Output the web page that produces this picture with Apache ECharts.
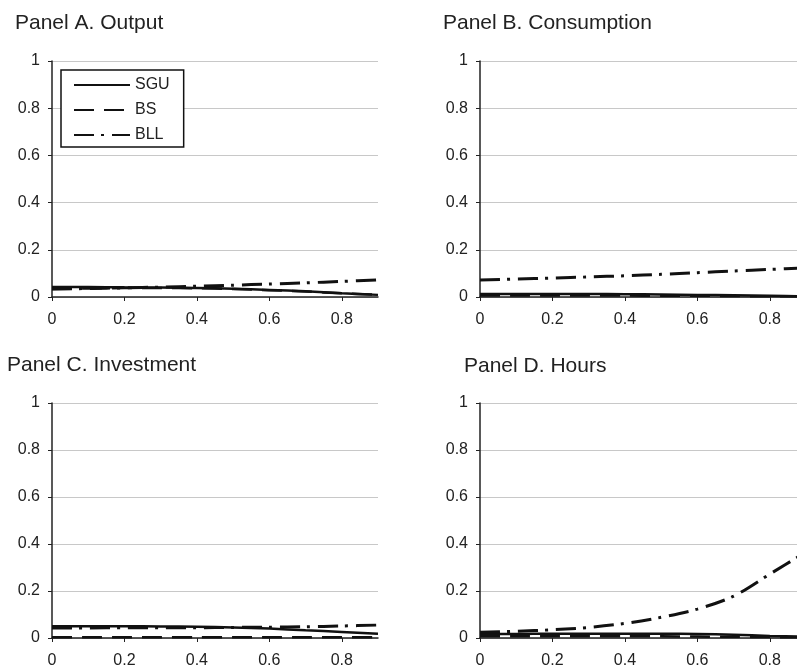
<!DOCTYPE html>
<html><head><meta charset="utf-8">
<script src="https://cdn.jsdelivr.net/npm/echarts@6/dist/echarts.min.js"></script>
<style>html,body{margin:0;padding:0;background:#fff}#c{width:797px;height:669px}</style>
</head><body><div id="c"></div>
<script>
// x positions
const xVals = [0, 0.1, 0.2, 0.3, 0.4, 0.5, 0.6, 0.7, 0.8, 0.9];
const xTickLabels = [0, 0.2, 0.4, 0.6, 0.8];
const yTickLabels = [0, 0.2, 0.4, 0.6, 0.8, 1];
const panelTitles = ['Panel A. Output', 'Panel B. Consumption', 'Panel C. Investment', 'Panel D. Hours'];
const seriesNames = ['SGU', 'BS', 'BLL'];

// Panel A. Output
const outputSGU = [0.042, 0.042, 0.041, 0.040, 0.038, 0.035, 0.030, 0.024, 0.016, 0.009];
const outputBS  = [0.034, 0.036, 0.038, 0.038, 0.037, 0.034, 0.029, 0.023, 0.016, 0.009];
const outputBLL = [0.034, 0.036, 0.039, 0.042, 0.046, 0.050, 0.055, 0.060, 0.066, 0.072];
// Panel B. Consumption
const consSGU = [0.013, 0.013, 0.013, 0.013, 0.012, 0.011, 0.009, 0.007, 0.005, 0.003];
const consBS  = [0.006, 0.006, 0.006, 0.006, 0.006, 0.005, 0.005, 0.004, 0.003, 0.003];
const consBLL = [0.072, 0.076, 0.080, 0.085, 0.090, 0.096, 0.103, 0.110, 0.117, 0.123];
// Panel C. Investment
const invSGU = [0.050, 0.050, 0.050, 0.049, 0.048, 0.045, 0.040, 0.033, 0.026, 0.018];
const invBS  = [0.003, 0.003, 0.003, 0.003, 0.003, 0.003, 0.003, 0.003, 0.003, 0.003];
const invBLL = [0.043, 0.043, 0.044, 0.044, 0.044, 0.045, 0.046, 0.048, 0.051, 0.055];
// Panel D. Hours
const hoursSGU = [0.016, 0.017, 0.018, 0.018, 0.018, 0.018, 0.017, 0.014, 0.009, 0.005];
const hoursBS  = [0.007, 0.007, 0.007, 0.007, 0.007, 0.007, 0.006, 0.005, 0.004, 0.003];
const hoursBLL = [0.024, 0.029, 0.035, 0.045, 0.062, 0.088, 0.123, 0.178, 0.272, 0.366];

const panels = [
  [outputSGU, outputBS, outputBLL],
  [consSGU, consBS, consBLL],
  [invSGU, invBS, invBLL],
  [hoursSGU, hoursBS, hoursBLL]
];

const FONT = 'Liberation Sans, Arial, sans-serif';
// right-hand panels are cut off by the picture edge at x≈0.875
const gridPos = [
  {left: 52, top: 61, width: 326, xMax: 0.9},
  {left: 480, top: 61, width: 317, xMax: 0.875},
  {left: 52, top: 403, width: 326, xMax: 0.9},
  {left: 480, top: 403, width: 317, xMax: 0.875}
];
const titlePos = [
  {left: 15, top: 13},
  {left: 443, top: 13},
  {left: 7, top: 355},
  {left: 464, top: 356}
];
const lineStyles = [
  {color: '#111', width: 2.5, type: 'solid'},
  {color: '#111', width: 2.5, type: [20, 10]},
  {color: '#111', width: 3, type: [20, 7, 3, 8]}
];

const option = {
  animation: false,
  backgroundColor: '#fff',
  title: panelTitles.map((t, i) => ({
    text: t, left: titlePos[i].left, top: titlePos[i].top, padding: 0,
    textStyle: {fontFamily: FONT, fontSize: 21, fontWeight: 'normal', color: '#222'}
  })),
  legend: {
    data: seriesNames,
    orient: 'vertical',
    left: 61, top: 70,
    padding: [7, 14, 4, 12],
    itemWidth: 56, itemHeight: 14, itemGap: 9,
    borderColor: '#111', borderWidth: 1.5,
    backgroundColor: '#fff',
    itemStyle: {opacity: 0},
    lineStyle: {width: 2},
    textStyle: {fontFamily: FONT, fontSize: 16, color: '#222'},
    selectedMode: false
  },
  grid: gridPos.map(g => ({left: g.left, top: g.top, width: g.width, height: 236, containLabel: false})),
  xAxis: gridPos.map((g, i) => ({
    type: 'value', gridIndex: i, min: 0, max: g.xMax,
    axisLine: {show: true, onZero: false, lineStyle: {color: '#222', width: 1.5}},
    axisTick: {show: true, length: 4, customValues: xTickLabels, lineStyle: {color: '#222', width: 1}},
    axisLabel: {customValues: xTickLabels, margin: 15, fontFamily: FONT, fontSize: 16, color: '#222'},
    splitLine: {show: false}
  })),
  yAxis: gridPos.map((g, i) => ({
    type: 'value', gridIndex: i, min: 0, max: 1, interval: 0.2,
    axisLine: {show: true, lineStyle: {color: '#222', width: 1.5}},
    axisTick: {show: true, length: 4, lineStyle: {color: '#222', width: 1}},
    axisLabel: {margin: 12, fontFamily: FONT, fontSize: 16, color: '#222'},
    splitLine: {show: true, lineStyle: {color: '#c8c8c8', width: 1}}
  })),
  series: []
};

panels.forEach((p, i) => {
  [1, 0, 2].forEach(k => {
    option.series.push({
      type: 'line', name: seriesNames[k], xAxisIndex: i, yAxisIndex: i,
      data: xVals.map((x, j) => [x, p[k][j]]),
      symbol: 'none', smooth: 0.3,
      lineStyle: lineStyles[k],
      itemStyle: {color: '#111'},
      z: 2 + k
    });
  });
});

const chart = echarts.init(document.getElementById('c'), null, {renderer: 'canvas'});
chart.setOption(option);
</script></body></html>
